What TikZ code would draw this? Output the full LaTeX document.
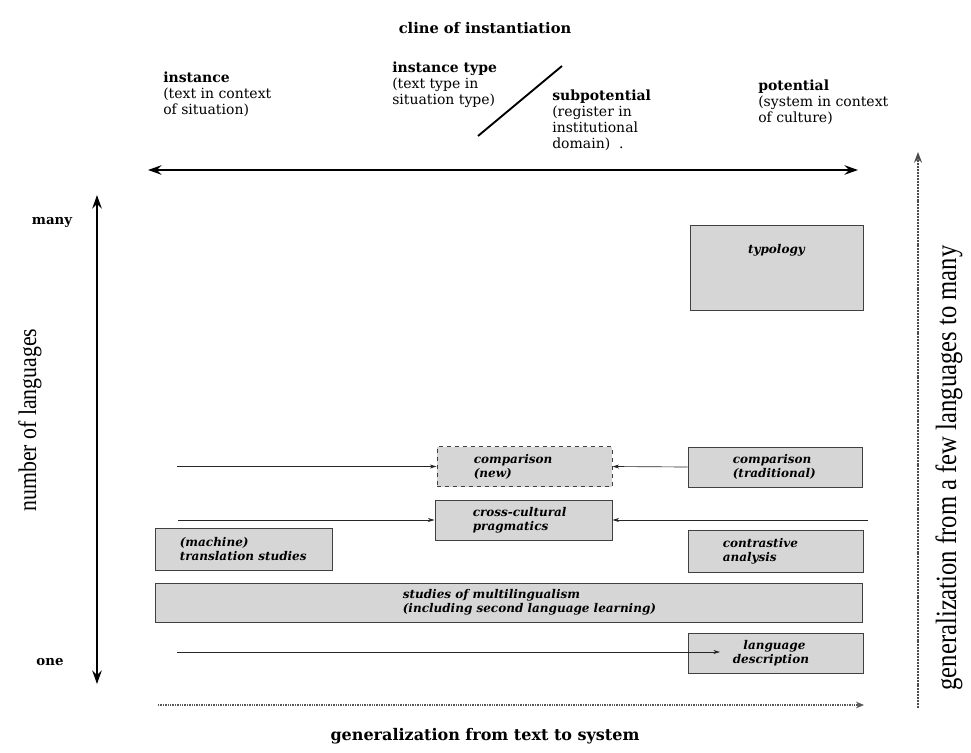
\documentclass[tikz,border=0pt]{standalone}
\usepackage{fontspec}
\setmainfont{DejaVu Serif}
\newfontfamily\timesf{Liberation Serif}
\usetikzlibrary{arrows.meta}
\begin{document}
\begin{tikzpicture}[x=0.75pt,y=-0.75pt,
  box/.style={draw=black!75, fill=black!16, line width=0.7pt, inner sep=0pt},
  btxt/.style={font=\fontsize{9}{10.5}\selectfont\bfseries\itshape, align=left, inner sep=0pt, anchor=west},
  hd/.style={anchor=north west, align=left, inner sep=0pt, font=\fontsize{10.5}{11.8}\selectfont},
  ttl/.style={inner sep=0pt, font=\fontsize{11}{13}\selectfont\bfseries},
  thinarr/.style={-{Stealth[length=5pt,width=3pt]}, line width=0.5pt, black!85},
  bigarr/.style={{Stealth[length=10pt,width=7pt]}-{Stealth[length=10pt,width=7pt]}, line width=2pt},
  rdot/.style={-{Stealth[length=8pt,width=6pt]}, line width=2.2pt, dash pattern=on 1.5pt off 0.7pt, black!70},
  bdot/.style={-{Stealth[length=6pt,width=5pt]}, line width=1.4pt, dash pattern=on 1pt off 0.8pt, black!65}
]
\useasboundingbox (0,0) rectangle (971,753);

% headings
\node[ttl] (title) at (485,28) {cline of instantiation};
\node[hd] (inst) at (163,72) {\textbf{instance}\\(text in context\\of situation)};
\node[hd] (itype) at (392,62) {\textbf{instance type}\\(text type in\\situation type)};
\node[hd] (subpot) at (552,90) {\textbf{subpotential}\\(register in\\institutional\\domain) \ .};
\node[hd] (pot) at (758,80) {\textbf{potential}\\(system in context\\of culture)};
\coordinate (s1) at (478,136);
\coordinate (s2) at (562,66);
\draw[line width=1.4pt] (s1) -- (s2);

% cline arrow
\coordinate (cl) at (148,170);
\coordinate (cr) at (858,170);
\draw[bigarr] (cl) -- (cr);

% left axis
\coordinate (lt) at (97,195);
\coordinate (lb) at (97,684);
\draw[bigarr] (lt) -- (lb);
\node[ttl, font=\fontsize{10}{12}\selectfont\bfseries] (many) at (52,222) {many};
\node[ttl, font=\fontsize{10}{12}\selectfont\bfseries] (one) at (50,662) {one};
\node[inner sep=0pt, rotate=90, font=\fontsize{19}{21}\timesf] (nol) at (30,420) {\scalebox{0.86}[1]{number of languages}};

% right axis
\coordinate (rb) at (918,708);
\coordinate (rt) at (918,152);
\draw[rdot] (rb) -- (rt);
\node[inner sep=0pt, rotate=90, font=\fontsize{22}{24}\timesf] (gfl) at (949,468) {\scalebox{0.84}[1]{generalization from a few languages to many}};

% bottom axis
\coordinate (bl) at (158,705);
\coordinate (br) at (864,705);
\draw[bdot] (bl) -- (br);
\node[ttl, font=\fontsize{12}{14}\selectfont\bfseries] (gts) at (485,736) {generalization from text to system};

% boxes
\node[box, minimum width=173*0.75pt, minimum height=85*0.75pt,
  label={[btxt, anchor=north, yshift=-15pt]north:typology}]
  (typ) at (776.5,267.5) {};
\node[box, dashed, minimum width=175*0.75pt, minimum height=40*0.75pt,
  label={[btxt, xshift=37*0.75pt]west:comparison\\(new)}] (cnew) at (524.5,466.5) {};
\node[box, minimum width=174*0.75pt, minimum height=40*0.75pt,
  label={[btxt, xshift=45*0.75pt]west:comparison\\(traditional)}] (ctrad) at (775,467) {};
\node[box, minimum width=177*0.75pt, minimum height=40*0.75pt,
  label={[btxt, xshift=38*0.75pt]west:cross-cultural\\pragmatics}] (ccp) at (523.5,520) {};
\node[box, minimum width=177*0.75pt, minimum height=42*0.75pt,
  label={[btxt, xshift=25*0.75pt]west:(machine)\\translation studies}] (mts) at (243.5,549) {};
\node[box, minimum width=175*0.75pt, minimum height=42*0.75pt,
  label={[btxt, xshift=35*0.75pt]west:contrastive\\analysis}] (cca) at (775.5,551) {};
\node[box, minimum width=707*0.75pt, minimum height=39*0.75pt,
  label={[btxt, xshift=248*0.75pt]west:studies of multilingualism\\(including second language learning)}]
  (mul) at (508.5,602.5) {};
\node[box, minimum width=175*0.75pt, minimum height=40*0.75pt,
  label={[btxt, xshift=45*0.75pt]west:\hspace*{8pt}language\\description}] (lde) at (775.5,653) {};

% thin arrows
\coordinate (a1) at (177,466.5);
\coordinate (a2) at (178,520);
\coordinate (a3) at (868,520);
\coordinate (a4) at (177,652);
\coordinate (a5) at (720,652);
\draw[thinarr] (a1) -- (cnew.west);
\draw[thinarr] (ctrad.west) -- (cnew.east);
\draw[thinarr] (a2) -- (ccp.west);
\draw[thinarr] (a3) -- (ccp.east);
\draw[thinarr] (a4) -- (a5);
\end{tikzpicture}
\end{document}
